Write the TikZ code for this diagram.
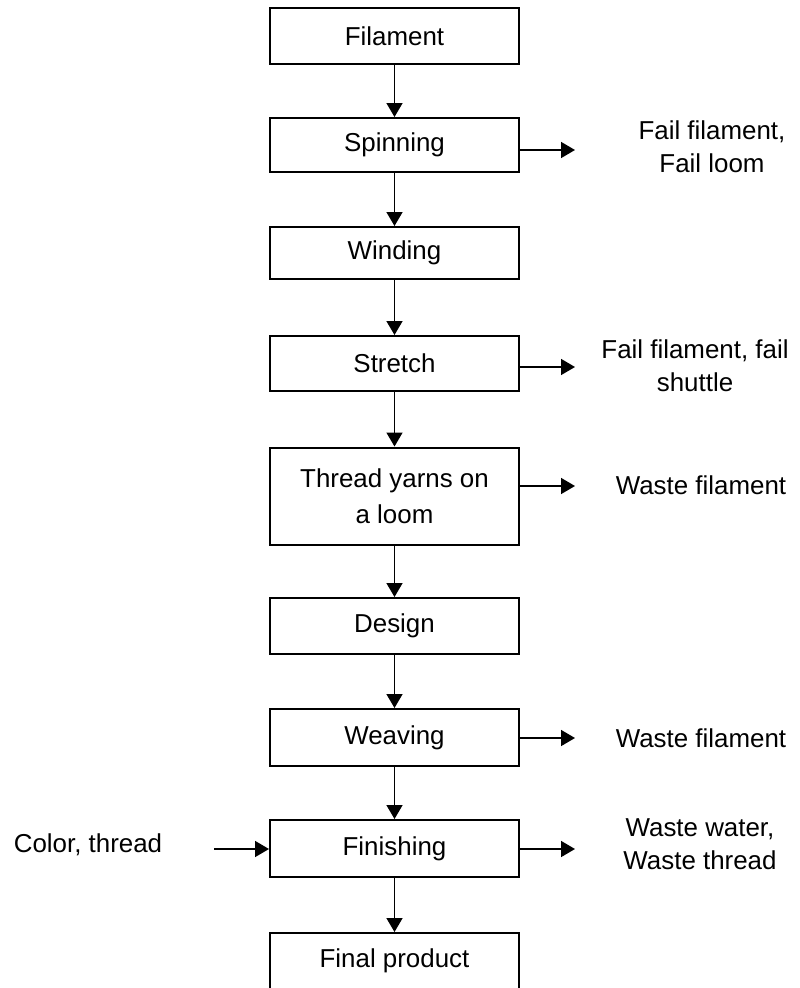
\documentclass[tikz,border=0pt]{standalone}
\usepackage{fontspec}
\setmainfont{Liberation Sans}
\usetikzlibrary{arrows.meta}
\begin{document}
\begin{tikzpicture}[x=1bp,y=-1bp,
  box/.style={draw, line width=2bp, minimum width=249bp, inner sep=0pt, align=center, font=\fontsize{26}{36}\selectfont},
  lbl/.style={inner sep=0pt, align=center, font=\fontsize{26}{33}\selectfont},
  arr/.style={line width=1.6bp, -{Triangle[length=14bp,width=16bp]}}]
\useasboundingbox (0,0) rectangle (800,988);
% process boxes
\node[box, minimum height=56bp] (fil)  at (394.5,36)    {Filament};
\node[box, minimum height=54bp] (spin) at (394.5,145)   {Spinning};
\node[box, minimum height=52bp] (wind) at (394.5,253)   {Winding};
\node[box, minimum height=55bp] (str)  at (394.5,363.5) {Stretch};
\node[box, minimum height=97bp] (thr)  at (394.5,496)   {Thread yarns on\\a loom};
\node[box, minimum height=56bp] (des)  at (394.5,626)   {Design};
\node[box, minimum height=57bp] (wea)  at (394.5,737.5) {Weaving};
\node[box, minimum height=57bp] (fin)  at (394.5,848.5) {Finishing};
\node[box, minimum height=56bp] (fp)   at (394.5,961)   {Final product};
% main flow
\draw[arr] (fil) -- (spin);
\draw[arr] (spin) -- (wind);
\draw[arr] (wind) -- (str);
\draw[arr] (str) -- (thr);
\draw[arr] (thr) -- (des);
\draw[arr] (des) -- (wea);
\draw[arr] (wea) -- (fin);
\draw[arr] (fin) -- (fp);
% side labels
\node[lbl] (o1) at (712,147) {Fail filament,\\Fail loom};
\node[lbl] (o2) at (695,366) {Fail filament, fail\\shuttle};
\node[lbl] (o3) at (701,485) {Waste filament};
\node[lbl] (o4) at (701,738) {Waste filament};
\node[lbl] (o5) at (700,844) {Waste water,\\Waste thread};
\node[lbl] (in1) at (88,845) {Color, thread};
% arrow end points
\coordinate (e1) at (575,150);
\coordinate (e2) at (575,367);
\coordinate (e3) at (575,486);
\coordinate (e4) at (575,738);
\coordinate (e5) at (575,849);
\coordinate (s6) at (214,849);
\draw[arr] (spin.east |- e1) -- (e1);
\draw[arr] (str.east |- e2) -- (e2);
\draw[arr] (thr.east |- e3) -- (e3);
\draw[arr] (wea.east |- e4) -- (e4);
\draw[arr] (fin.east |- e5) -- (e5);
\draw[arr] (s6) -- (fin.west |- s6);
\end{tikzpicture}
\end{document}
